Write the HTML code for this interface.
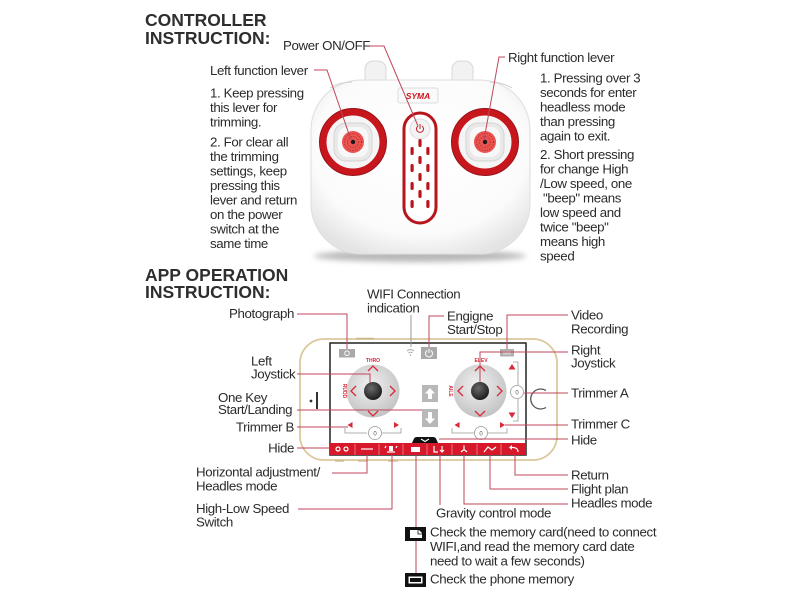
<!DOCTYPE html>
<html><head><meta charset="utf-8">
<style>
html,body{margin:0;padding:0;background:#fff;}
svg{display:block}
text{font-family:"Liberation Sans",Arial,sans-serif;}
.t{font-size:13.3px;fill:#2b2b2b;letter-spacing:-0.38px}
.h{font-size:17.5px;font-weight:bold;fill:#2e2e2e}
.l{stroke:#c0465a;stroke-width:1;fill:none}
.ch{stroke:#d8283a;stroke-width:1.3;fill:none}
.w{stroke:#fff;stroke-width:1.2;fill:none}
.tiny{font-size:5px;font-weight:bold;fill:#d8283a}
</style></head><body>
<svg width="800" height="600" viewBox="0 0 800 600" xmlns="http://www.w3.org/2000/svg">
<defs>
  <radialGradient id="bodyG" cx="50%" cy="40%" r="65%">
    <stop offset="0" stop-color="#ffffff"/>
    <stop offset="0.75" stop-color="#fbfbfb"/>
    <stop offset="1" stop-color="#e4e4e4"/>
  </radialGradient>
  <radialGradient id="joyG" cx="45%" cy="40%" r="60%">
    <stop offset="0" stop-color="#f2f2f2"/>
    <stop offset="1" stop-color="#c4c4c4"/>
  </radialGradient>
  <radialGradient id="knobG" cx="40%" cy="35%" r="65%">
    <stop offset="0" stop-color="#6a6a6a"/>
    <stop offset="1" stop-color="#1e1e1e"/>
  </radialGradient>
  <filter id="blur" x="-20%" y="-200%" width="140%" height="500%">
    <feGaussianBlur stdDeviation="3"/>
  </filter>
</defs>

<!-- Headers -->
<text class="h" x="145" y="26">CONTROLLER</text>
<text class="h" x="145" y="44">INSTRUCTION:</text>
<text class="h" x="145" y="281">APP OPERATION</text>
<text class="h" x="145" y="298">INSTRUCTION:</text>

<!-- ===== Controller ===== -->
<ellipse cx="420" cy="256" rx="106" ry="6" fill="#b8b8b8" filter="url(#blur)"/>
<rect x="365" y="61" width="21" height="28" rx="8" fill="#f2f2f2" stroke="#d8d8d8"/>
<rect x="452" y="61" width="21" height="28" rx="8" fill="#f2f2f2" stroke="#d8d8d8"/>
<rect x="311" y="80" width="219" height="174" rx="50" fill="url(#bodyG)" stroke="#dedede"/>
<path d="M330,88 Q340,82 352,82" stroke="#cfcfcf" fill="none"/>
<path d="M490,82 Q502,82 512,88" stroke="#cfcfcf" fill="none"/>

<!-- SYMA -->
<rect x="398" y="88" width="40" height="15" rx="2" fill="#fafafa" stroke="#dcdcdc"/>
<text x="418" y="99" text-anchor="middle" style="font-size:8.5px;font-weight:bold;font-style:italic;fill:#d0121b">SYMA</text>

<!-- power column -->
<rect x="404" y="113" width="32" height="110" rx="16" fill="#fff" stroke="#b8141c" stroke-width="3"/>
<circle cx="420" cy="129" r="10" fill="#f3f3f3" stroke="#dadada"/>
<path d="M418,126 A3.5,3.5 0 1 0 422,126" stroke="#c0202a" stroke-width="1" fill="none"/>
<line x1="420" y1="124" x2="420" y2="129" stroke="#c0202a" stroke-width="1"/>
<g fill="#b8141c">
  <rect x="410.5" y="147" width="3.2" height="8" rx="1.5"/>
  <rect x="410.5" y="164" width="3.2" height="8" rx="1.5"/>
  <rect x="410.5" y="182" width="3.2" height="8" rx="1.5"/>
  <rect x="410.5" y="200" width="3.2" height="8" rx="1.5"/>
  <rect x="426.3" y="147" width="3.2" height="8" rx="1.5"/>
  <rect x="426.3" y="164" width="3.2" height="8" rx="1.5"/>
  <rect x="426.3" y="182" width="3.2" height="8" rx="1.5"/>
  <rect x="426.3" y="200" width="3.2" height="8" rx="1.5"/>
  <rect x="418.4" y="139" width="3.2" height="8" rx="1.5"/>
  <rect x="418.4" y="156" width="3.2" height="8" rx="1.5"/>
  <rect x="418.4" y="173" width="3.2" height="8" rx="1.5"/>
  <rect x="418.4" y="190" width="3.2" height="8" rx="1.5"/>
</g>

<!-- left pad -->
<g transform="translate(353,142)">
  <circle r="30" fill="#f5f5f5" stroke="#c8161d" stroke-width="7"/>
  <circle r="33.5" fill="none" stroke="#96121a" stroke-width="1"/>
  <rect x="-19" y="-19" width="38" height="38" rx="12" fill="#e9e9e9" stroke="#d4d4d4"/>
  <rect x="-15" y="-15" width="30" height="30" rx="9" fill="#f8f8f8"/>
  <circle r="11" fill="#ea5450"/>
  <circle r="8.5" fill="none" stroke="#b02828" stroke-width="1" stroke-dasharray="1 1.6"/>
  <circle r="5.5" fill="none" stroke="#b02828" stroke-width="1" stroke-dasharray="1 1.6"/>
  <circle r="2.2" fill="#1a1a1a"/>
</g>
<!-- right pad -->
<g transform="translate(485,142)">
  <circle r="30" fill="#f5f5f5" stroke="#c8161d" stroke-width="7"/>
  <circle r="33.5" fill="none" stroke="#96121a" stroke-width="1"/>
  <rect x="-19" y="-19" width="38" height="38" rx="12" fill="#e9e9e9" stroke="#d4d4d4"/>
  <rect x="-15" y="-15" width="30" height="30" rx="9" fill="#f8f8f8"/>
  <circle r="11" fill="#ea5450"/>
  <circle r="8.5" fill="none" stroke="#b02828" stroke-width="1" stroke-dasharray="1 1.6"/>
  <circle r="5.5" fill="none" stroke="#b02828" stroke-width="1" stroke-dasharray="1 1.6"/>
  <circle r="2.2" fill="#1a1a1a"/>
</g>

<!-- controller leaders -->
<path class="l" d="M369,46 H384 L418,126"/>
<path class="l" d="M314,70 H327 L351,140"/>
<path class="l" d="M505,57 H499 L484,140"/>

<!-- controller texts -->
<text class="t" x="283" y="50">Power ON/OFF</text>
<text class="t" x="210" y="75">Left function lever</text>
<text class="t" x="210" y="97.5">1. Keep pressing</text>
<text class="t" x="210" y="112">this lever for</text>
<text class="t" x="210" y="126.5">trimming.</text>
<text class="t" x="210" y="146.5">2. For clear all</text>
<text class="t" x="210" y="161">the trimming</text>
<text class="t" x="210" y="175.5">settings, keep</text>
<text class="t" x="210" y="190">pressing this</text>
<text class="t" x="210" y="204.5">lever and return</text>
<text class="t" x="210" y="219">on the power</text>
<text class="t" x="210" y="233.5">switch at the</text>
<text class="t" x="210" y="248">same time</text>

<text class="t" x="508" y="62">Right function lever</text>
<text class="t" x="540" y="82.5">1. Pressing over 3</text>
<text class="t" x="540" y="97">seconds for enter</text>
<text class="t" x="540" y="111.5">headless mode</text>
<text class="t" x="540" y="126">than pressing</text>
<text class="t" x="540" y="140.5">again to exit.</text>
<text class="t" x="540" y="159">2. Short pressing</text>
<text class="t" x="540" y="173.5">for change High</text>
<text class="t" x="540" y="188">/Low speed, one</text>
<text class="t" x="543" y="202.5">"beep" means</text>
<text class="t" x="540" y="217">low speed and</text>
<text class="t" x="540" y="231.5">twice "beep"</text>
<text class="t" x="540" y="246">means high</text>
<text class="t" x="540" y="260.5">speed</text>

<!-- ===== Phone ===== -->
<rect x="300" y="339" width="257" height="121" rx="24" fill="#fff" stroke="#dcc89e" stroke-width="1.8"/>
<line x1="356" y1="338.5" x2="374" y2="338.5" stroke="#cdb583" stroke-width="1.5"/>
<line x1="335" y1="461" x2="344" y2="461" stroke="#cdb583" stroke-width="1.2"/>
<line x1="358" y1="461" x2="367" y2="461" stroke="#cdb583" stroke-width="1.2"/>
<line x1="388" y1="461" x2="398" y2="461" stroke="#cdb583" stroke-width="1.2"/>
<circle cx="311" cy="401" r="1.4" fill="#333"/>
<line x1="317" y1="392" x2="317" y2="409" stroke="#333" stroke-width="2"/>
<path d="M546,390.5 A10,10 0 1 0 546,407.5" stroke="#555" stroke-width="1.3" fill="none"/>

<!-- screen -->
<rect x="330" y="343" width="196" height="112" fill="#fff" stroke="#222" stroke-width="1.5"/>
<rect x="330" y="443" width="196" height="12" fill="#d7182a"/>
<g stroke="#f08a94" stroke-width="0.8">
  <line x1="355" y1="444" x2="355" y2="455"/>
  <line x1="379" y1="444" x2="379" y2="455"/>
  <line x1="403" y1="444" x2="403" y2="455"/>
  <line x1="427" y1="444" x2="427" y2="455"/>
  <line x1="452" y1="444" x2="452" y2="455"/>
  <line x1="477" y1="444" x2="477" y2="455"/>
  <line x1="501" y1="444" x2="501" y2="455"/>
</g>
<!-- bar icons -->
<circle cx="338" cy="449" r="2" class="w" stroke-width="0.8"/>
<circle cx="346" cy="449" r="2" class="w" stroke-width="0.8"/>
<line x1="361" y1="449" x2="373" y2="449" class="w" stroke-width="1.5"/>
<rect x="389" y="446" width="4" height="5" fill="#fff"/>
<path class="w" stroke-width="0.8" d="M385,448 l1,-2 M396,448 l1,-2 M387,452 H395"/>
<rect x="411" y="447" width="9" height="5" fill="#fff"/>
<path class="w" stroke-width="0.9" d="M434,446 V452 H438 M442,446 V452 M440,450 l2,2 l2,-2"/>
<path class="w" stroke-width="1" d="M464,445.5 V449.5 M464,449.5 l-3,2.5 M464,449.5 l3,2.5"/>
<path class="w" stroke-width="0.9" d="M484,452 L488,447 L492,450 L496,447"/>
<path class="w" stroke-width="1.2" d="M518,452 Q518,447 511,447.5"/>
<path d="M509,447.5 l3,-2.5 v5 z" fill="#fff"/>

<!-- hide tab -->
<path d="M412,443 L414,438.5 Q415,437 417,437 H433 Q435,437 436,438.5 L438,443 Z" fill="#111"/>
<path d="M421,439 L425,441.5 L429,439" stroke="#fff" stroke-width="1.1" fill="none"/>

<!-- top icons -->
<rect x="339" y="349" width="16" height="8.5" fill="#aaa"/>
<circle cx="347" cy="353.2" r="2.3" fill="none" stroke="#fff" stroke-width="0.9"/>
<path d="M407,351 Q410.5,348 414,351 M408.5,353 Q410.5,351.2 412.5,353" stroke="#aaa" stroke-width="0.9" fill="none"/>
<circle cx="410.5" cy="355" r="0.8" fill="#aaa"/>
<rect x="421" y="347" width="16" height="12" fill="#aaa"/>
<path d="M427.2,350.5 A3.5,3.5 0 1 0 430.8,350.5" stroke="#fff" stroke-width="1" fill="none"/>
<line x1="429" y1="349" x2="429" y2="353" stroke="#fff" stroke-width="1"/>
<rect x="500" y="349" width="14" height="7.5" fill="#b0b0b0"/>
<rect x="503" y="351" width="8" height="3.5" fill="#d0d0d0"/>

<!-- left joystick -->
<circle cx="373" cy="391" r="26.5" fill="url(#joyG)"/>
<circle cx="373" cy="391" r="9" fill="url(#knobG)"/>
<path class="ch" d="M356,386 L351,391 L356,396 M390,386 L395,391 L390,396 M368,371 L373,366 L378,371 M368,411 L373,416 L378,411"/>
<text class="tiny" x="373" y="362" text-anchor="middle">THRO</text>
<text class="tiny" transform="translate(343,391) rotate(90)" text-anchor="middle">RUDD</text>

<!-- right joystick -->
<circle cx="480" cy="391" r="26.5" fill="url(#joyG)"/>
<circle cx="480" cy="391" r="9" fill="url(#knobG)"/>
<path class="ch" d="M463,386 L458,391 L463,396 M497,386 L502,391 L497,396 M475,371 L480,366 L485,371 M475,411 L480,416 L485,411"/>
<text class="tiny" x="481" y="362" text-anchor="middle">ELEV</text>
<text class="tiny" transform="translate(449,391) rotate(90)" text-anchor="middle">AILE</text>

<!-- middle up/down -->
<rect x="422" y="385" width="16" height="17" fill="#b8b8b8"/>
<path d="M430,388 L425,393.5 H428 V399 H432 V393.5 H435 Z" fill="#fff"/>
<rect x="422" y="409" width="16" height="18" fill="#b8b8b8"/>
<path d="M430,424 L425,418.5 H428 V412 H432 V418.5 H435 Z" fill="#fff"/>

<!-- trimmer B -->
<path d="M347.5,422 L352.5,425 L347.5,428 Z" fill="#d8283a" transform="rotate(180 350 425)"/>
<path d="M394,422 L399,425 L394,428 Z" fill="#d8283a"/>
<path d="M345,428 V433 H367 M382,433 H401 V428" stroke="#999" stroke-width="0.8" fill="none"/>
<circle cx="375" cy="433" r="6.5" fill="#fff" stroke="#999" stroke-width="0.8"/>
<text x="375" y="435.5" text-anchor="middle" style="font-size:6px;fill:#555">0</text>

<!-- trimmer C -->
<path d="M454.5,422 L459.5,425 L454.5,428 Z" fill="#d8283a" transform="rotate(180 457 425)"/>
<path d="M500,422 L505,425 L500,428 Z" fill="#d8283a"/>
<path d="M452,428 V433 H474 M488,433 H507 V428" stroke="#999" stroke-width="0.8" fill="none"/>
<circle cx="481" cy="433" r="6.5" fill="#fff" stroke="#999" stroke-width="0.8"/>
<text x="481" y="435.5" text-anchor="middle" style="font-size:6px;fill:#555">0</text>

<!-- trimmer A -->
<path d="M508.5,369.5 L512,364 L515.5,369.5 Z" fill="#d8283a"/>
<path d="M508.5,412.5 L512,418 L515.5,412.5 Z" fill="#d8283a"/>
<path d="M513,362 H518 V385 M518,399 V421 H513" stroke="#999" stroke-width="0.8" fill="none"/>
<circle cx="517" cy="392" r="6.5" fill="#fff" stroke="#999" stroke-width="0.8"/>
<text x="517" y="394.5" text-anchor="middle" style="font-size:6px;fill:#555">0</text>

<!-- app leaders -->
<path class="l" d="M297,314 H347 V349"/>
<path d="M411,315 V347" stroke="#999" stroke-width="1" fill="none"/>
<path class="l" d="M444,316 H429 V347"/>
<path class="l" d="M568,315 H507 V349"/>
<path class="l" d="M568,352 H480 V382"/>
<path class="l" d="M568,393 H524"/>
<path class="l" d="M568,425 H505"/>
<path class="l" d="M568,439 H439"/>
<path class="l" d="M297,374 H370 V383"/>
<path class="l" d="M297,410 H422"/>
<path class="l" d="M297,427 H348"/>
<path class="l" d="M297,448 H330"/>
<path class="l" d="M332,473 H367 V455"/>
<path class="l" d="M298,509 H392 V455"/>
<path class="l" d="M416,455 V574"/>
<path class="l" d="M440,455 V505"/>
<path class="l" d="M464,455 V504 H568"/>
<path class="l" d="M490,455 V489 H568"/>
<path class="l" d="M515,455 V475 H568"/>

<!-- app labels -->
<text class="t" x="367" y="298.5">WIFI Connection</text>
<text class="t" x="367" y="312.5">indication</text>
<text class="t" x="294" y="318" text-anchor="end">Photograph</text>
<text class="t" x="447" y="320.5">Engigne</text>
<text class="t" x="447" y="334">Start/Stop</text>
<text class="t" x="571" y="319.5">Video</text>
<text class="t" x="571" y="333.5">Recording</text>
<text class="t" x="571" y="354.5">Right</text>
<text class="t" x="571" y="367.5">Joystick</text>
<text class="t" x="571" y="397.5">Trimmer A</text>
<text class="t" x="571" y="428.5">Trimmer C</text>
<text class="t" x="571" y="444.5">Hide</text>
<text class="t" x="251" y="365.5">Left</text>
<text class="t" x="251" y="378.5">Joystick</text>
<text class="t" x="218" y="402">One Key</text>
<text class="t" x="218" y="414">Start/Landing</text>
<text class="t" x="294" y="431.5" text-anchor="end">Trimmer B</text>
<text class="t" x="294" y="452.5" text-anchor="end">Hide</text>
<text class="t" x="196" y="476.5">Horizontal adjustment/</text>
<text class="t" x="196" y="490.5">Headles mode</text>
<text class="t" x="196" y="513">High-Low Speed</text>
<text class="t" x="196" y="526.5">Switch</text>
<text class="t" x="571" y="479.5">Return</text>
<text class="t" x="571" y="493.5">Flight plan</text>
<text class="t" x="571" y="507.5">Headles mode</text>
<text class="t" x="436" y="517.5">Gravity control mode</text>

<!-- memory icons -->
<rect x="405" y="527" width="21" height="14" fill="#111"/>
<path d="M410,530 H419 L422,533 V538 H410 Z" fill="#fff"/>
<path d="M418,530 V534 H422" stroke="#111" stroke-width="0.8" fill="none"/>
<rect x="405" y="573" width="21" height="14" fill="#111"/>
<rect x="408.5" y="576.5" width="14" height="7" fill="#fff"/>
<rect x="410" y="578" width="11" height="4" fill="#111"/>

<text class="t" x="430" y="536.5">Check the memory card(need to connect</text>
<text class="t" x="430" y="551">WIFI,and read the memory card date</text>
<text class="t" x="430" y="565.5">need to wait a few seconds)</text>
<text class="t" x="430" y="583.5">Check the phone memory</text>
</svg>
</body></html>
